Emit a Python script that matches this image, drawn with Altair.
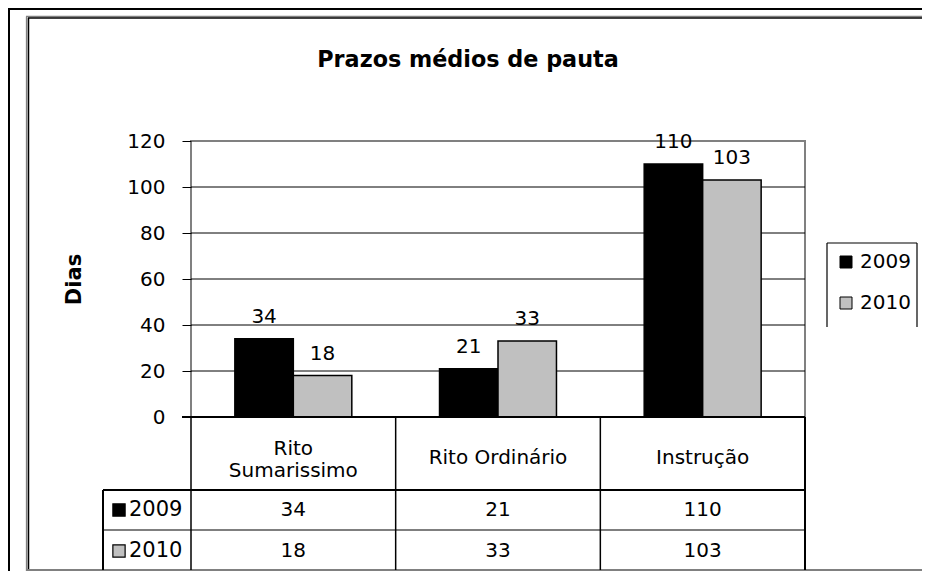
import altair as alt
import pandas as pd

# ---- data ----
categories = ["Rito Sumarissimo", "Rito Ordinário", "Instrução"]
header_labels = ["Rito\nSumarissimo", "Rito Ordinário", "Instrução"]
years = ["2009", "2010"]
values_2009 = [34, 21, 110]
values_2010 = [18, 33, 103]
y_ticks = [0, 20, 40, 60, 80, 100, 120]
grid_values = [20, 40, 60, 80, 100]
title_text = ["Prazos médios de pauta"]
y_title = "Dias"
colors = ["#000000", "#c0c0c0"]

# ---- layout ----
W, H = 614, 276
PAD_L, PAD_T, PAD_R, PAD_B = 183, 133, 117, 154
RIGHT = W + PAD_R
FONT = "DejaVu Sans"
GRAY = "#808080"
LEG_X, LEG_Y, LEG_W, LEG_H = 636, 102, 90, 84

rows = []
for year, vals in zip(years, [values_2009, values_2010]):
    for c, v in zip(categories, vals):
        rows.append({"cat": c, "year": year, "value": v})
df = pd.DataFrame(rows)
header_df = pd.DataFrame({"cat": categories, "label": header_labels})
header_df["lines"] = header_df["label"].str.count("\n") + 1
year_df = pd.DataFrame({"year": years})
dummy = pd.DataFrame({"d": [0]})

x_scale = alt.Scale(domain=categories, paddingInner=0, paddingOuter=0)
x_enc = alt.X("cat:N", scale=x_scale, axis=None)
xoff_enc = alt.XOffset("year:N", scale=alt.Scale(domain=years, paddingInner=0, paddingOuter=0.75))
y_scale = alt.Scale(domain=[0, 120], nice=False)
color_scale = alt.Scale(domain=years, range=colors)

y_axis = alt.Axis(
    values=y_ticks, grid=False, domain=False, tickColor="black", tickSize=9, tickWidth=1,
    labelFont=FONT, labelFontSize=20, labelColor="black", labelPadding=17,
    title=y_title, titleFont=FONT, titleFontSize=21, titleFontWeight="bold", titleColor="black",
    titleX=-117, titleY=138, titleAngle=-90, titleAlign="center", titleBaseline="middle")


def hline(x, x2, y, color="black", width=1.0):
    return alt.Chart(dummy).mark_rule(color=color, strokeWidth=width).encode(
        x=alt.value(x), x2=alt.value(x2), y=alt.value(y))


def vline(x, y, y2, color="black", width=1.0):
    return alt.Chart(dummy).mark_rule(color=color, strokeWidth=width).encode(
        x=alt.value(x), y=alt.value(y), y2=alt.value(y2))


frame = [
    vline(-182, -133, 430, width=2),
    hline(-183, RIGHT, -132, width=2),
    vline(-164.4, -124.5, 430, color=GRAY, width=1.5),
    vline(-162.5, -123, 430, width=1.5),
    hline(-165, RIGHT, -124.5, color=GRAY, width=1.5),
    hline(-163, RIGHT, -123, width=1.5),
    # table borders
    hline(-88, W, 349, width=2),
    hline(-88, W, 389, width=1.2),
    hline(-165, RIGHT, 429, color=GRAY, width=2),
    vline(-88, 349, 429, width=2),
    vline(W, H, 429, width=2),
    # legend box (open at the bottom, as in the original)
    hline(LEG_X, LEG_X + LEG_W, LEG_Y, width=1.2),
    vline(LEG_X, LEG_Y, LEG_Y + LEG_H, width=1.2),
    vline(LEG_X + LEG_W, LEG_Y, LEG_Y + LEG_H, width=1.2),
]

bars = alt.Chart(df).mark_bar(stroke="black", strokeWidth=1.5).encode(
    x=x_enc,
    xOffset=xoff_enc,
    y=alt.Y("value:Q", scale=y_scale, axis=y_axis),
    color=alt.Color("year:N", scale=color_scale, legend=alt.Legend(
        title=None, orient="none", legendX=LEG_X, legendY=LEG_Y, direction="vertical",
        symbolType="square", symbolSize=144, symbolStrokeColor="black", symbolStrokeWidth=1,
        symbolOpacity=1, labelFont=FONT, labelFontSize=20, labelColor="black", labelOffset=4,
        rowPadding=21, padding=9)),
)

grid = alt.Chart(pd.DataFrame({"value": grid_values})).mark_rule(color="black", strokeWidth=1).encode(
    y=alt.Y("value:Q", scale=y_scale, axis=y_axis), x=alt.value(0), x2=alt.value(W))

zero_line = alt.Chart(pd.DataFrame({"value": [0]})).mark_rule(color="black", strokeWidth=2).encode(
    y=alt.Y("value:Q", scale=y_scale, axis=y_axis), x=alt.value(-9), x2=alt.value(W))

col_lines = alt.Chart(header_df).mark_rule(color="black", strokeWidth=1.5).encode(
    x=alt.X("cat:N", bandPosition=0, scale=x_scale, axis=None),
    y=alt.value(H), y2=alt.value(429))

labels = alt.Chart(df).mark_text(font=FONT, fontSize=20, baseline="alphabetic", dy=-16, color="black").encode(
    x=x_enc, xOffset=xoff_enc, y=alt.Y("value:Q", scale=y_scale, axis=y_axis), text="value:Q")

header_one = alt.Chart(header_df).transform_filter("datum.lines == 1").mark_text(
    font=FONT, fontSize=20, baseline="middle", color="black").encode(
    x=x_enc, y=alt.value(317), text="label:N")
header_two = alt.Chart(header_df).transform_filter("datum.lines == 2").mark_text(
    font=FONT, fontSize=20, baseline="middle", lineBreak="\n", lineHeight=22, color="black").encode(
    x=x_enc, y=alt.value(308), text="label:N")

title = alt.Chart(pd.DataFrame({"t": title_text})).mark_text(
    font=FONT, fontSize=22.3, fontWeight="bold", baseline="alphabetic", align="center", color="black").encode(
    x=alt.value(277), y=alt.value(-74), text="t:N")

main = alt.layer(*frame, grid, col_lines, bars, zero_line, labels, header_one, header_two, title)

row_y = alt.Y("year:N", scale=alt.Scale(type="point", domain=years, range=[369, 410], padding=0), axis=None)
table_vals = alt.Chart(df).mark_text(font=FONT, fontSize=20, baseline="middle", color="black").encode(
    x=x_enc, y=row_y, text="value:Q")
row_labels = alt.Chart(year_df).mark_text(font=FONT, fontSize=21, baseline="middle", align="left",
                                           color="black").encode(
    x=alt.value(-62), y=row_y, text="year:N")
row_squares = alt.Chart(year_df).mark_point(shape="square", filled=True, size=150, stroke="black",
                                            strokeWidth=1.2, opacity=1).encode(
    x=alt.value(-72), y=row_y, color=alt.Color("year:N", scale=color_scale, legend=None))
table = alt.layer(table_vals, row_labels, row_squares)

chart = alt.layer(main, table).resolve_scale(y="independent").properties(
    width=W, height=H,
    padding={"left": PAD_L, "top": PAD_T, "right": PAD_R, "bottom": PAD_B},
    autosize=alt.AutoSizeParams(type="none"),
    background="white",
).configure_view(stroke=GRAY, strokeWidth=2)

chart.save("out.html", embed_options={"renderer": "svg", "actions": False})
